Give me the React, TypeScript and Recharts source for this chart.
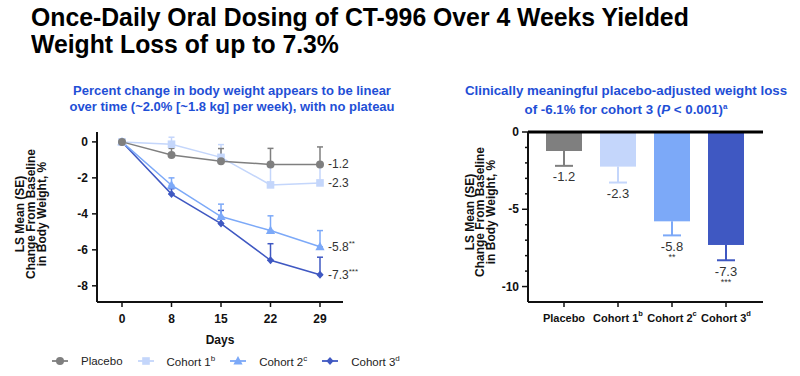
import React from "react";
import {
  LineChart,
  Line,
  BarChart,
  Bar,
  XAxis,
  YAxis,
  ErrorBar,
  Legend,
  ReferenceLine,
  LabelList,
} from "recharts";

// ---- data ----
const days = ["0", "8", "15", "22", "29"];

const placeboMean = [0, -0.73, -1.08, -1.25, -1.25];
const placeboSE = [0, 0.37, 0.71, 0.89, 0.97];
const cohort1Mean = [0, -0.13, -0.86, -2.39, -2.28];
const cohort1SE = [0, 0.39, 0.71, 1.0, 0.93];
const cohort2Mean = [0, -2.41, -4.15, -4.93, -5.83];
const cohort2SE = [0, 0.41, 0.69, 0.82, 0.9];
const cohort3Mean = [0, -2.9, -4.54, -6.58, -7.38];
const cohort3SE = [0, 0.3, 0.73, 0.92, 0.97];

const endLabels = ["-1.2", "-2.3", "-5.8", "-7.3"];
const endStars = ["", "", "**", "***"];

const groups = ["Placebo", "Cohort 1", "Cohort 2", "Cohort 3"];
const groupSup = ["", "b", "c", "d"];
const day29Change = [-1.23, -2.24, -5.78, -7.31];
const day29SE = [0.96, 1.03, 0.91, 0.99];
const barLabels = ["-1.2", "-2.3", "-5.8", "-7.3"];
const barStars = ["", "", "**", "***"];

const leftTicks = [0, -2, -4, -6, -8];
const rightTicks = [0, -1, -2, -3, -4, -5, -6, -7, -8, -9, -10];

const titleLines = [
  "Once-Daily Oral Dosing of CT-996 Over 4 Weeks Yielded",
  "Weight Loss of up to 7.3%",
];

const COLORS = ["#7f7f7f", "#c4d6fb", "#7ca9f8", "#3f58c2"];
const FONT = "'Liberation Sans', Arial, sans-serif";
const BLUE = "#1f4fd6";
const INK = "#111";

const lineData = days.map((d, i) => ({
  day: d,
  placebo: placeboMean[i],
  placeboErr: [0, placeboSE[i]],
  c1: cohort1Mean[i],
  c1Err: [0, cohort1SE[i]],
  c2: cohort2Mean[i],
  c2Err: [0, cohort2SE[i]],
  c3: cohort3Mean[i],
  c3Err: [0, cohort3SE[i]],
}));

const barData = groups.map((g, i) => ({
  group: g,
  idx: i,
  change: day29Change[i],
  se: day29SE[i],
}));

const SHAPES = ["circle", "square", "triangle", "diamond"];

function Marker({ cx, cy, shape, color }: any) {
  if (shape === "circle") return <circle cx={cx} cy={cy} r={4} fill={color} />;
  if (shape === "square")
    return <rect x={cx - 3.8} y={cy - 3.8} width={7.6} height={7.6} fill={color} />;
  if (shape === "triangle")
    return (
      <path d={`M${cx},${cy - 5} L${cx + 4.6},${cy + 3.4} L${cx - 4.6},${cy + 3.4} Z`} fill={color} />
    );
  return (
    <path d={`M${cx},${cy - 4} L${cx + 3.6},${cy} L${cx},${cy + 4} L${cx - 3.6},${cy} Z`} fill={color} />
  );
}

const dotFor = (k: number) => (p: any) => {
  const key = `dot-${k}-${p.index}`;
  if (p.cx == null || p.cy == null) return <g key={key} />;
  return (
    <g key={key}>
      <Marker cx={p.cx} cy={p.cy} shape={SHAPES[k]} color={COLORS[k]} />
    </g>
  );
};

const endLabelFor = (k: number) => (p: any) => {
  if (p.index !== days.length - 1) return null;
  return (
    <text x={p.x + 8} y={p.y} dominantBaseline="central" fontSize={12} fill="#333" fontFamily={FONT}>
      {endLabels[k]}
      {endStars[k] && (
        <tspan fontSize={8} dy={-4}>
          {endStars[k]}
        </tspan>
      )}
    </text>
  );
};

const yLabel = (cx: number, cy: number, gap: number) => () =>
  (
    <text
      transform={`translate(${cx},${cy}) rotate(-90)`}
      textAnchor="middle"
      dominantBaseline="central"
      fontSize={12}
      fontWeight={700}
      fill={INK}
      fontFamily={FONT}
    >
      <tspan x={0} y={-gap}>LS Mean (SE)</tspan>
      <tspan x={0} y={0}>Change From Baseline</tspan>
      <tspan x={0} y={gap}>in Body Weight, %</tspan>
    </text>
  );

const legendItems = [
  { name: "Placebo", sup: "" },
  { name: "Cohort 1", sup: "b" },
  { name: "Cohort 2", sup: "c" },
  { name: "Cohort 3", sup: "d" },
];

const renderLegend = () => (
  <div
    style={{
      display: "flex",
      alignItems: "center",
      fontFamily: FONT,
      fontSize: 11.5,
      color: "#222",
      paddingLeft: 52,
      whiteSpace: "nowrap",
      width: 420,
      boxSizing: "border-box",
    }}
  >
    {legendItems.map((it, k) => (
      <span key={it.name} style={{ display: "flex", alignItems: "center", marginRight: 15, whiteSpace: "nowrap" }}>
        <svg width={16} height={12} style={{ flex: "none" }}>
          <line x1={0} y1={6} x2={16} y2={6} stroke={COLORS[k]} strokeWidth={1.8} />
          <Marker cx={8} cy={6} shape={SHAPES[k]} color={COLORS[k]} />
        </svg>
        <span style={{ marginLeft: 13, whiteSpace: "nowrap" }}>
          {it.name}
          {it.sup && <sup style={{ fontSize: 8 }}>{it.sup}</sup>}
        </span>
      </span>
    ))}
  </div>
);

const RightYTick = (p: any) => {
  const { x, y, payload } = p;
  const major = payload.value % 5 === 0;
  const len = major ? 6 : 3;
  return (
    <g>
      <line x1={x - len} y1={y} x2={x} y2={y} stroke={INK} strokeWidth={1.5} />
      {major && (
        <text x={x - len - 3} y={y} textAnchor="end" dominantBaseline="central" fontSize={12} fontWeight={700} fill={INK} fontFamily={FONT}>
          {payload.value}
        </text>
      )}
    </g>
  );
};

const RightXTick = (p: any) => {
  const { x, y, payload } = p;
  const i = groups.indexOf(payload.value);
  return (
    <text x={x} y={y + 9} textAnchor="middle" dominantBaseline="central" fontSize={11} fontWeight={700} fill={INK} fontFamily={FONT}>
      {payload.value}
      {groupSup[i] && (
        <tspan fontSize={7.5} dy={-5}>
          {groupSup[i]}
        </tspan>
      )}
    </text>
  );
};

const barShape = (p: any) => {
  const { x, y, width, height, payload } = p;
  const i = payload.idx;
  const top = Math.min(y, y + height);
  const h = Math.abs(height);
  const perUnit = h / Math.abs(payload.change);
  const bottom = top + h;
  const errY = bottom + payload.se * perUnit;
  const cx = x + width / 2;
  return (
    <g>
      <rect x={x} y={top} width={width} height={h} fill={COLORS[i]} />
      <line x1={cx} y1={bottom} x2={cx} y2={errY} stroke={COLORS[i]} strokeWidth={2} />
      <line x1={cx - 9} y1={errY} x2={cx + 9} y2={errY} stroke={COLORS[i]} strokeWidth={2} />
      <text x={cx} y={errY + 11} textAnchor="middle" dominantBaseline="central" fontSize={13} fill="#333" fontFamily={FONT}>
        {barLabels[i]}
      </text>
      {barStars[i] && (
        <text x={cx} y={errY + 22} textAnchor="middle" dominantBaseline="central" fontSize={9} fill="#333" fontFamily={FONT}>
          {barStars[i]}
        </text>
      )}
    </g>
  );
};

const lineKeys = ["placebo", "c1", "c2", "c3"];

export default function App() {
  return (
    <div
      style={{
        position: "absolute",
        left: 0,
        top: 0,
        width: 800,
        height: 376,
        background: "#fff",
        fontFamily: FONT,
        overflow: "hidden",
      }}
    >
      {titleLines.map((t, i) => (
        <div
          key={t}
          style={{
            position: "absolute",
            left: 31,
            top: 5 + i * 27,
            fontFamily: FONT,
            fontWeight: 700,
            fontSize: 26,
            lineHeight: "25px",
            height: 25,
            color: "#000",
            whiteSpace: "nowrap",
            transform: "scaleX(0.953)",
            transformOrigin: "0 0",
          }}
        >
          {t}
        </div>
      ))}

      <div
        style={{
          position: "absolute",
          left: 37,
          width: 390,
          top: 83,
          textAlign: "center",
          color: BLUE,
          fontWeight: 700,
          fontSize: 13,
          lineHeight: "16px",
        }}
      >
        Percent change in body weight appears to be linear
        <br />
        over time (~2.0% [~1.8 kg] per week), with no plateau
      </div>

      <div
        style={{
          position: "absolute",
          left: 426,
          width: 400,
          top: 83,
          textAlign: "center",
          color: BLUE,
          fontWeight: 700,
          fontSize: 13.3,
          lineHeight: "16px",
        }}
      >
        Clinically meaningful placebo-adjusted weight loss
        <br />
        of -6.1% for cohort 3 (<i>P</i> &lt; 0.001)<sup style={{ fontSize: 8 }}>a</sup>
      </div>

      <div style={{ position: "absolute", left: 0, top: 0 }}>
        <LineChart width={420} height={376} data={lineData} margin={{ top: 132, right: 77, bottom: 44, left: 57 }}>
          <XAxis
            dataKey="day"
            padding={{ left: 25, right: 23 }}
            height={30}
            axisLine={{ stroke: INK, strokeWidth: 2 }}
            tickLine={{ stroke: INK, strokeWidth: 1.5 }}
            tickSize={5}
            tickMargin={7}
            tick={{ fill: INK, fontSize: 12, fontWeight: 700, fontFamily: FONT }}
            label={(p: any) => (
              <text
                x={p.viewBox.x + p.viewBox.width / 2}
                y={340}
                textAnchor="middle"
                dominantBaseline="central"
                fontSize={12}
                fontWeight={700}
                fill={INK}
                fontFamily={FONT}
              >
                Days
              </text>
            )}
          />
          <YAxis
            width={40}
            domain={[-8.9, 0.55]}
            ticks={leftTicks}
            axisLine={{ stroke: INK, strokeWidth: 2 }}
            tickLine={{ stroke: INK, strokeWidth: 1.5 }}
            tickSize={5}
            tickMargin={4}
            tick={{ fill: INK, fontSize: 12, fontWeight: 700, fontFamily: FONT }}
            label={yLabel(31, 214, 11)}
          />
          {[3, 2, 1, 0].map((k) => (
            <Line
              key={lineKeys[k]}
              dataKey={lineKeys[k]}
              type="linear"
              stroke={COLORS[k]}
              strokeWidth={1.5}
              dot={dotFor(k)}
              activeDot={false}
              isAnimationActive={false}
            >
              <ErrorBar dataKey={`${lineKeys[k]}Err`} direction="y" width={3} stroke={COLORS[k]} strokeWidth={1.5} />
              <LabelList dataKey={lineKeys[k]} content={endLabelFor(k)} />
            </Line>
          ))}
          <Legend
            layout="vertical"
            verticalAlign="middle"
            align="center"
            content={renderLegend}
            wrapperStyle={{ left: 0, top: 354, width: 420 }}
          />
        </LineChart>
      </div>

      <div style={{ position: "absolute", left: 420, top: 0 }}>
        <BarChart width={380} height={376} data={barData} margin={{ top: 132, right: 37, bottom: 44, left: 68 }}>
          <XAxis
            dataKey="group"
            padding={{ left: 9, right: 10 }}
            height={30}
            axisLine={{ stroke: INK, strokeWidth: 2 }}
            tickLine={{ stroke: INK, strokeWidth: 1.5 }}
            tickSize={5}
            tickMargin={2}
            tick={RightXTick}
            interval={0}
          />
          <YAxis
            width={40}
            domain={[-11, 0]}
            ticks={rightTicks}
            axisLine={{ stroke: INK, strokeWidth: 2 }}
            tickLine={false}
            tickSize={0}
            tickMargin={0}
            tick={RightYTick}
            interval={0}
            label={yLabel(60, 212, 10.5)}
          />
          <Bar dataKey="change" barSize={36} shape={barShape} isAnimationActive={false} />
          <ReferenceLine y={0} stroke="#000" strokeWidth={3} />
        </BarChart>
      </div>
    </div>
  );
}
